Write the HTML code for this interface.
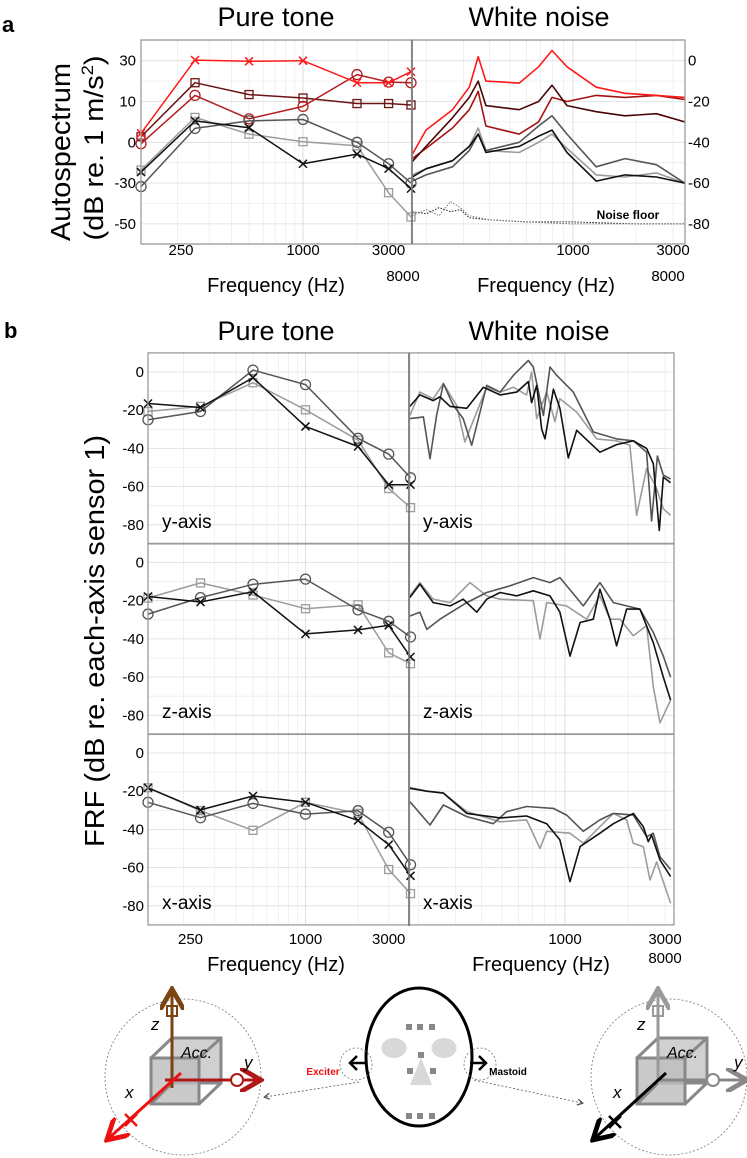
<!DOCTYPE html>
<html><head><meta charset="utf-8"><style>
html,body{margin:0;padding:0;background:#fff}
svg{display:block;font-family:"Liberation Sans",sans-serif}
</style></head><body>
<svg id="fig" width="747" height="1158" viewBox="0 0 747 1158" xmlns="http://www.w3.org/2000/svg">
<defs>
<clipPath id="clipAR"><rect x="412" y="40" width="273" height="204"/></clipPath>
<clipPath id="clipB0"><rect x="409" y="353" width="265" height="191"/></clipPath>
<clipPath id="clipB1"><rect x="409" y="543" width="265" height="191"/></clipPath>
<clipPath id="clipB2"><rect x="409" y="734" width="265" height="192"/></clipPath>
<marker id="ah" markerWidth="8" markerHeight="8" refX="6" refY="4" orient="auto"><path d="M0,0 L7,4 L0,8" fill="none" stroke="context-stroke" stroke-width="1.6"/></marker>
</defs>
<g id="gGrid"></g>
<g id="gData"></g>
<g id="gFrames"></g>
<g id="gText">
<text x="2" y="32" font-size="22" font-weight="bold">a</text>
<text x="276" y="26" font-size="27" text-anchor="middle">Pure tone</text>
<text x="539" y="26" font-size="27" text-anchor="middle">White noise</text>
<text transform="translate(70,152) rotate(-90)" font-size="28" text-anchor="middle" textLength="178" lengthAdjust="spacingAndGlyphs">Autospectrum</text>
<text transform="translate(103,148) rotate(-90)" font-size="27" text-anchor="middle" textLength="185" lengthAdjust="spacingAndGlyphs">(dB re. 1 m/s<tspan font-size="17" dy="-10">2</tspan><tspan dy="10">)</tspan></text>
<text x="276" y="292" font-size="20" text-anchor="middle">Frequency (Hz)</text>
<text x="546" y="292" font-size="20" text-anchor="middle">Frequency (Hz)</text>
<text x="628" y="219" font-size="12" font-weight="bold" text-anchor="middle">Noise floor</text>
<text x="4" y="338" font-size="22" font-weight="bold">b</text>
<text x="276" y="340" font-size="27" text-anchor="middle">Pure tone</text>
<text x="539" y="340" font-size="27" text-anchor="middle">White noise</text>
<text transform="translate(104,641) rotate(-90)" font-size="28" text-anchor="middle" textLength="412" lengthAdjust="spacingAndGlyphs">FRF (dB re. each-axis sensor 1)</text>
<text x="276" y="971" font-size="20" text-anchor="middle">Frequency (Hz)</text>
<text x="541" y="971" font-size="20" text-anchor="middle">Frequency (Hz)</text>
<text x="162" y="528" font-size="19">y-axis</text>
<text x="423" y="528" font-size="19">y-axis</text>
<text x="162" y="718" font-size="19">z-axis</text>
<text x="423" y="718" font-size="19">z-axis</text>
<text x="162" y="909" font-size="19">x-axis</text>
<text x="423" y="909" font-size="19">x-axis</text>
</g>
<g id="diagram">
<g>
<circle cx="183" cy="1077" r="78" fill="none" stroke="#777" stroke-width="0.8" stroke-dasharray="2,2"/>
<rect x="172" y="1038" width="49" height="45" fill="#d0d0d0" stroke="#888" stroke-width="3"/>
<rect x="151" y="1058" width="48" height="46" fill="#bdbdbd" fill-opacity="0.8" stroke="#888" stroke-width="3"/>
<path d="M151,1058 L172,1038 M199,1058 L221,1038 M199,1104 L221,1083 M151,1104 L172,1083" stroke="#888" stroke-width="3" fill="none"/>
<line x1="172" y1="1088" x2="172" y2="992" stroke="#7a4512" stroke-width="3" marker-end="url(#ah)"/>
<rect x="167" y="1006" width="10" height="10" fill="none" stroke="#7a4512" stroke-width="2"/>
<line x1="165" y1="1080" x2="258" y2="1080" stroke="#b01818" stroke-width="3" marker-end="url(#ah)"/>
<circle cx="237" cy="1080" r="6" fill="#fff" stroke="#b01818" stroke-width="2"/>
<line x1="181" y1="1073" x2="109" y2="1138" stroke="#ee1111" stroke-width="3" marker-end="url(#ah)"/>
<path d="M125,1114 L137,1126 M137,1114 L125,1126" stroke="#ee1111" stroke-width="2.5"/>
<text x="151" y="1030" font-size="17" font-style="italic">z</text>
<text x="244" y="1068" font-size="17" font-style="italic">y</text>
<text x="125" y="1098" font-size="17" font-style="italic">x</text>
<text x="181" y="1058" font-size="16" font-style="italic">Acc.</text>
</g>
<g>
<ellipse cx="419" cy="1057" rx="53" ry="69" fill="#fff" stroke="#000" stroke-width="3"/>
<g fill="#888">
<rect x="406" y="1024" width="6" height="6"/><rect x="417" y="1024" width="6" height="6"/><rect x="429" y="1024" width="6" height="6"/>
<rect x="418" y="1052" width="6" height="6"/>
<rect x="407" y="1068" width="6" height="6"/><rect x="430" y="1068" width="6" height="6"/>
<rect x="406" y="1113" width="6" height="6"/><rect x="417" y="1113" width="6" height="6"/><rect x="429" y="1113" width="6" height="6"/>
</g>
<ellipse cx="394" cy="1048" rx="12.5" ry="10" fill="#d8d8d8"/>
<ellipse cx="444" cy="1048" rx="12.5" ry="10" fill="#d8d8d8"/>
<polygon points="421,1058 410,1085 432,1085" fill="#d8d8d8"/>
<ellipse cx="356" cy="1064" rx="16" ry="16" fill="none" stroke="#777" stroke-width="0.8" stroke-dasharray="2,2"/>
<ellipse cx="480" cy="1064" rx="16" ry="16" fill="none" stroke="#777" stroke-width="0.8" stroke-dasharray="2,2"/>
<path d="M366,1063 L350,1063 M357,1056 L350,1063 L357,1070" stroke="#000" stroke-width="2.5" fill="none"/>
<path d="M470,1063 L486,1063 M479,1056 L486,1063 L479,1070" stroke="#000" stroke-width="2.5" fill="none"/>
<text x="323" y="1075" font-size="10" font-weight="bold" fill="#ee1111" text-anchor="middle">Exciter</text>
<text x="508" y="1075" font-size="10" font-weight="bold" text-anchor="middle">Mastoid</text>
<line x1="359" y1="1082" x2="265" y2="1097" stroke="#555" stroke-width="0.8" stroke-dasharray="2,2" marker-end="url(#ah)"/>
<line x1="474" y1="1080" x2="582" y2="1103" stroke="#555" stroke-width="0.8" stroke-dasharray="2,2" marker-end="url(#ah)"/>
</g>
<g>
<circle cx="669" cy="1077" r="78" fill="none" stroke="#777" stroke-width="0.8" stroke-dasharray="2,2"/>
<rect x="658" y="1038" width="49" height="45" fill="#d0d0d0" stroke="#888" stroke-width="3"/>
<rect x="637" y="1058" width="48" height="46" fill="#bdbdbd" fill-opacity="0.8" stroke="#888" stroke-width="3"/>
<path d="M637,1058 L658,1038 M685,1058 L707,1038 M685,1104 L707,1083 M637,1104 L658,1083" stroke="#888" stroke-width="3" fill="none"/>
<line x1="658" y1="1080" x2="658" y2="992" stroke="#9a9a9a" stroke-width="3" marker-end="url(#ah)"/>
<rect x="653" y="1006" width="10" height="10" fill="none" stroke="#9a9a9a" stroke-width="2"/>
<line x1="658" y1="1080" x2="744" y2="1080" stroke="#888" stroke-width="3" marker-end="url(#ah)"/>
<circle cx="713" cy="1080" r="6" fill="#fff" stroke="#888" stroke-width="2"/>
<line x1="666" y1="1073" x2="595" y2="1138" stroke="#000" stroke-width="3" marker-end="url(#ah)"/>
<path d="M609,1116 L621,1128 M621,1116 L609,1128" stroke="#000" stroke-width="2.5"/>
<text x="637" y="1030" font-size="17" font-style="italic">z</text>
<text x="734" y="1068" font-size="17" font-style="italic">y</text>
<text x="613" y="1098" font-size="17" font-style="italic">x</text>
<text x="667" y="1058" font-size="16" font-style="italic">Acc.</text>
</g>
</g>
</svg>
<script>
// ---------- data ----------
const ptFreq = [125, 250, 500, 1000, 2000, 3000, 4000];
const aRedX = [-35.6, 0.3, -0.3, 0, -10.8, -10.8, -5.4];
const aBrownSq = [-37.3, -10.8, -16.6, -18.3, -21, -21, -21.7];
const aRedO = [-40.7, -17, -28.5, -22.4, -6.8, -10.5, -10.8];
const aGrayO = [-61.7, -33.2, -29.5, -28.8, -40, -50.5, -60];
const aLightSq = [-53.6, -27.8, -36, -39.7, -41.7, -64.7, -76.6];
const aBlackX = [-54.6, -29.5, -32.9, -50.5, -45.8, -52.9, -62.7];
const aLeftTickVals = [0, -20, -40, -60, -80];
const aLeftTickLabels = ["30", "10", "0", "-30", "-50"];
const aRightTickLabels = ["0", "-20", "-40", "-60", "-80"];
const wnAFreq = [171, 199, 266, 320, 353, 384, 554, 685, 794, 936, 1290, 1770, 2500, 3410];
const wnARed = [-46, -34, -24, -13, 2, -10, -11, -3, 5, -3, -13, -16, -17, -18];
const wnABrown = [-49.5, -42, -28, -18, -10, -22, -24, -20, -12, -22, -25, -27, -26, -30];
const wnAMidRed = [-48, -43, -33, -24, -15, -32, -36, -30, -18, -20, -17, -18, -17, -19];
const wnABlack = [-57, -53, -49, -42, -36, -45, -42, -37, -34, -45, -59, -56, -57, -60];
const wnADark = [-59, -56, -52, -44, -36, -44, -40, -32, -27, -36, -52, -48, -51, -60];
const wnALight = [-56, -53, -49, -42, -33, -44, -45, -40, -36, -43, -56, -57, -55, -60];
const nfFreq = [171, 200, 230, 260, 290, 320, 400, 600, 1000, 2000, 3410];
const nf1 = [-74, -75, -72, -74, -73, -77, -78, -79, -79, -80, -80];
const nf2 = [-76, -73, -76, -69, -72, -76, -78, -79, -80, -80, -80];
const bBlack = [[-16.5, -18.6, -3, -28.5, -39, -59, -59], [-17.8, -20.7, -15.3, -37.4, -35.3, -32.9, -49.4], [-18.2, -29.8, -22.5, -25.8, -35.3, -48, -64.3]];
const bDark = [[-25, -20.7, 1, -6.6, -34.7, -43, -55.4], [-27, -18.4, -11.4, -8.7, -24.8, -30.8, -39], [-25.8, -33.9, -26.4, -32, -30.2, -41.5, -58.5]];
const bLight = [[-20.7, -18, -5.6, -19.8, -35.7, -61, -71], [-18.6, -10.7, -17, -24.2, -22.1, -47.3, -53], [-18.2, -30.2, -40.5, -25.8, -31.6, -61, -73.6]];
const bTickVals = [0, -20, -40, -60, -80];
const wY_blackF = [182, 203, 235, 253, 283, 340, 408, 490, 588, 668, 693, 733, 774, 803, 880, 946, 1037, 1137, 1468, 1763, 2117, 2452, 2637, 2818, 2944, 3190];
const wY_black = [-18, -12, -15, -13, -18, -19, -8, -12, -10.5, -5, -16, -7, -30, -35, -9, -19, -45, -30.5, -42, -38, -36, -40, -48, -83, -55, -58];
const wY_darkF = [182, 196, 211, 227, 244, 263, 293, 327, 359, 423, 490, 568, 668, 706, 789, 848, 912, 1096, 1365, 1763, 2117, 2452, 2590, 2760, 2944, 3190];
const wY_dark = [-24.4, -24, -23.5, -45.4, -22.7, -6, -17.5, -24.4, -38.4, -7, -10.5, -1.7, 6, 2.6, -22.7, 2.6, -1.7, -10.5, -31.4, -35, -36, -42, -78, -44, -54, -56];
const wY_lightF = [182, 203, 235, 263, 304, 333, 379, 423, 490, 568, 656, 693, 733, 818, 896, 946, 1137, 1416, 1763, 2041, 2196, 2452, 2736, 2944, 3190];
const wY_light = [-22.7, -10.5, -14, -6, -17.5, -36.6, -21, -8, -10.5, -8, -12, 0, -24.4, -10.5, -26, -14, -21, -35, -36, -38.4, -75, -50.6, -61, -71.6, -75];
const wZ_blackF = [182, 203, 235, 283, 327, 379, 423, 490, 588, 706, 848, 946, 1057, 1180, 1365, 1468, 1640, 1763, 1968, 2278, 2637, 2944, 3190];
const wZ_black = [-18.3, -11.3, -21, -22.7, -19.2, -26, -19.2, -15.7, -17.5, -14.8, -17.5, -26, -49, -31.4, -29.7, -14, -29.7, -43.6, -24.4, -24.4, -42, -60, -72];
const wZ_darkF = [182, 203, 219, 253, 340, 423, 547, 706, 848, 946, 1223, 1468, 1701, 1968, 2278, 2637, 2944, 3190];
const wZ_dark = [-28, -26, -35, -29.7, -21, -15.7, -12.2, -7.9, -10.5, -7.9, -22.7, -10.5, -21, -22.7, -24.4, -36.6, -49, -60];
const wZ_lightF = [182, 203, 235, 283, 352, 423, 490, 706, 760, 818, 1018, 1268, 1468, 1640, 1829, 2117, 2452, 2637, 2838, 3190];
const wZ_light = [-17.5, -10.5, -19.2, -21, -10.5, -17.5, -19.2, -20, -40, -21, -22.7, -29.7, -17.5, -29.7, -29.7, -38.4, -33, -65, -84, -72];
const wX_blackF = [182, 219, 263, 340, 490, 656, 818, 946, 1057, 1180, 1468, 1701, 2117, 2364, 2497, 2590, 2838, 3190];
const wX_black = [-18.5, -20, -21, -31.6, -34, -33, -37, -45.5, -67.4, -49, -42, -37, -31.6, -38.6, -46.4, -43, -56, -64.7];
const wX_darkF = [182, 227, 263, 340, 455, 527, 656, 880, 1018, 1223, 1468, 1701, 2117, 2452, 2637, 2838, 3190];
const wX_dark = [-25.5, -37.7, -27.2, -33.3, -37, -30.7, -28, -29, -32.5, -41, -35, -31.6, -32.5, -43.8, -42, -54.3, -61];
const wX_lightF = [182, 219, 263, 340, 490, 656, 760, 818, 1057, 1223, 1468, 1701, 1968, 2117, 2364, 2543, 2736, 3190];
const wX_light = [-18, -20, -21, -30.7, -36, -35, -50, -41, -42, -47.3, -38.6, -31.6, -35, -47.3, -49, -66.5, -57, -78.7];
const ptTickFreqs = [250, 1000, 3000];
const ptTickLabels = ["250", "1000", "3000"];
const wnTickFreqs = [1000, 3000];
const wnTickLabels = ["1000", "3000"];

// ---------- scales ----------
const NS = "http://www.w3.org/2000/svg";
const xPA = f => 141 + 54 * Math.log2(f / 125);
const xWA = f => 573 + 209.6 * Math.log10(f / 1000);
const yA = v => 60.7 - v * 2.04;
const xPB = f => 148 + 52.5 * Math.log2(f / 125);
const xWB = f => 565 + 209.6 * Math.log10(f / 1000);
const bZero = [372, 562.5, 753];
const yB = (i, v) => bZero[i] - v * 1.91;

function mk(tag, attrs, parent) {
  const e = document.createElementNS(NS, tag);
  for (const k in attrs) e.setAttribute(k, attrs[k]);
  parent.appendChild(e);
  return e;
}
const gGrid = document.getElementById('gGrid');
const gData = document.getElementById('gData');
const gFrames = document.getElementById('gFrames');
const gText = document.getElementById('gText');

function gridBlock(x0, x1, y0, y1, xf, fmin, fmax, yOf, vmin, vmax) {
  for (let v = vmin; v <= vmax; v += 10) {
    const y = yOf(v);
    const major = (v % 20 === 0);
    const l = mk('line', {x1: x0, x2: x1, y1: y, y2: y, stroke: major ? '#dcdcdc' : '#ececec', 'stroke-width': 0.8}, gGrid);
    
    
  }
  const decs = [100, 1000];
  for (const d of decs) for (let m = 1; m < 10; m++) {
    const f = d * m;
    if (f <= fmin || f >= fmax) continue;
    const x = xf(f);
    const l = mk('line', {x1: x, x2: x, y1: y0, y2: y1, stroke: m === 1 ? '#d6d6d6' : '#ececec', 'stroke-width': 0.8}, gGrid);
    
    
  }
}
function frame(x0, x1, y0, y1, name) {
  const r = mk('rect', {x: x0, y: y0, width: x1 - x0, height: y1 - y0, fill: 'none', stroke: '#9a9a9a', 'stroke-width': 1.3}, gFrames);
  
  
}
function label(x, y, txt, anchor, size, name) {
  const t = mk('text', {x: x, y: y, 'font-size': size, 'text-anchor': anchor}, gText);
  t.textContent = txt;
  
  
  return t;
}
function line(fr, vals, xf, yf, color, width, name, clip, dash) {
  const pts = fr.map((f, i) => xf(f).toFixed(1) + ',' + yf(vals[i]).toFixed(1)).join(' ');
  const a = {points: pts, fill: 'none', stroke: color, 'stroke-width': width, 'stroke-linejoin': 'round'};
  if (clip) a['clip-path'] = 'url(#' + clip + ')';
  if (dash) a['stroke-dasharray'] = dash;
  const p = mk('polyline', a, gData);
  
  
}
function markers(fr, vals, xf, yf, color, kind, s, name) {
  const g = mk('g', {}, gData);
  
  
  fr.forEach((f, i) => {
    const x = xf(f), y = yf(vals[i]);
    let m;
    if (kind === 'o') m = mk('circle', {cx: x, cy: y, r: s, fill: 'none', stroke: color, 'stroke-width': 1.3}, g);
    else if (kind === 's') m = mk('rect', {x: x - s * 0.8, y: y - s * 0.8, width: s * 1.6, height: s * 1.6, fill: 'none', stroke: color, 'stroke-width': 1.3}, g);
    else m = mk('path', {d: `M${x - s * 0.8},${y - s * 0.8}L${x + s * 0.8},${y + s * 0.8}M${x + s * 0.8},${y - s * 0.8}L${x - s * 0.8},${y + s * 0.8}`, stroke: color, 'stroke-width': 1.5}, g);
    
    
  });
}

// ---------- panel a ----------
gridBlock(141, 412, 40, 244, xPA, 120, 4100, yA, -90, 10);
gridBlock(412, 685, 40, 244, xWA, 171, 3420, yA, -90, 10);
const aSeries = [
  [aBrownSq, '#6a1414', 's', 'a-pure-brown-square'],
  [aRedO, '#b41d1d', 'o', 'a-pure-red-circle'],
  [aRedX, '#ff1a1a', 'x', 'a-pure-bright-red-x'],
  [aLightSq, '#9c9c9c', 's', 'a-pure-lightgray-square'],
  [aGrayO, '#555', 'o', 'a-pure-darkgray-circle'],
  [aBlackX, '#111', 'x', 'a-pure-black-x']
];
aSeries.forEach(s => {
  line(ptFreq, s[0], xPA, yA, s[1], 1.5, s[3] + '-line');
  markers(ptFreq, s[0], xPA, yA, s[1], s[2], 5, s[3]);
});
line(nfFreq, nf1, xWA, yA, '#222', 1, 'noise-floor-1', 'clipAR', '1.5,1.5');
line(nfFreq, nf2, xWA, yA, '#777', 1, 'noise-floor-2', 'clipAR', '1.5,1.5');
[[wnALight, '#9c9c9c', 'a-wn-lightgray'], [wnADark, '#555', 'a-wn-darkgray'], [wnABlack, '#111', 'a-wn-black'],
 [wnAMidRed, '#a51212', 'a-wn-midred'], [wnABrown, '#4a0606', 'a-wn-brown'], [wnARed, '#ff1a1a', 'a-wn-red']].forEach(s => {
  line(wnAFreq, s[0], xWA, yA, s[1], 1.6, s[2], 'clipAR');
});
frame(141, 412, 40, 244, 'panel-a-pure-frame');
frame(412, 685, 40, 244, 'panel-a-wn-frame');
aLeftTickVals.forEach((v, i) => {
  label(136, yA(v) + 5, aLeftTickLabels[i], 'end', 15, 'a-left-tick-label');
  label(688, yA(v) + 5, aRightTickLabels[i], 'start', 15, 'a-right-tick-label');
});
ptTickFreqs.forEach((f, i) => label(xPA(f) - (i === 0 ? 14 : 0), 255, ptTickLabels[i], 'middle', 15, 'a-pure-x-tick-label'));
label(403, 281, '8000', 'middle', 15, 'a-pure-x-tick-8000');
wnTickFreqs.forEach((f, i) => label(xWA(f), 255, wnTickLabels[i], 'middle', 15, 'a-wn-x-tick-label'));
label(668, 281, '8000', 'middle', 15, 'a-wn-x-tick-8000');

// ---------- panel b ----------
const wnB = [
  [[wY_lightF, wY_light], [wY_darkF, wY_dark], [wY_blackF, wY_black]],
  [[wZ_lightF, wZ_light], [wZ_darkF, wZ_dark], [wZ_blackF, wZ_black]],
  [[wX_lightF, wX_light], [wX_darkF, wX_dark], [wX_blackF, wX_black]]
];
const axNames = ['y', 'z', 'x'];
for (let i = 0; i < 3; i++) {
  const yf = v => yB(i, v);
  const top = yf(10), bot = yf(-90);
  gridBlock(148, 409, top, bot, xPB, 120, 4100, yf, -90, 10);
  gridBlock(409, 674, top, bot, xWB, 181, 3310, yf, -90, 10);
  [[bLight[i], '#9c9c9c', 's', 'light'], [bDark[i], '#555', 'o', 'dark'], [bBlack[i], '#111', 'x', 'black']].forEach(s => {
    line(ptFreq, s[0], xPB, yf, s[1], 1.5, 'b-' + axNames[i] + '-pure-' + s[3] + '-line');
    markers(ptFreq, s[0], xPB, yf, s[1], s[2], 5, 'b-' + axNames[i] + '-pure-' + s[3]);
  });
  const cols = ['#9c9c9c', '#555', '#111'], nm = ['lightgray', 'darkgray', 'black'];
  wnB[i].forEach((c, k) => line(c[0], c[1], xWB, yf, cols[k], 1.6, 'b-' + axNames[i] + '-wn-' + nm[k], 'clipB' + i));
  frame(148, 409, top, bot, 'panel-b-' + axNames[i] + '-pure-frame');
  frame(409, 674, top, bot, 'panel-b-' + axNames[i] + '-wn-frame');
  bTickVals.forEach(v => label(144, yf(v) + 5, String(v), 'end', 15, 'b-y-tick-label'));
}
ptTickFreqs.forEach((f, i) => label(xPB(f) - (i === 0 ? 10 : 0), 944, ptTickLabels[i], 'middle', 15, 'b-pure-x-tick-label'));
wnTickFreqs.forEach((f, i) => label(xWB(f), 944, wnTickLabels[i], 'middle', 15, 'b-wn-x-tick-label'));
label(665, 963, '8000', 'middle', 15, 'b-wn-x-tick-8000');
[[412, 40, 244], [409, 353, 926]].forEach(d => {
  const l = mk('line', {x1: d[0], x2: d[0], y1: d[1], y2: d[2], stroke: '#777', 'stroke-width': 1.6}, gFrames);
  
  
});
</script>
</body></html>
